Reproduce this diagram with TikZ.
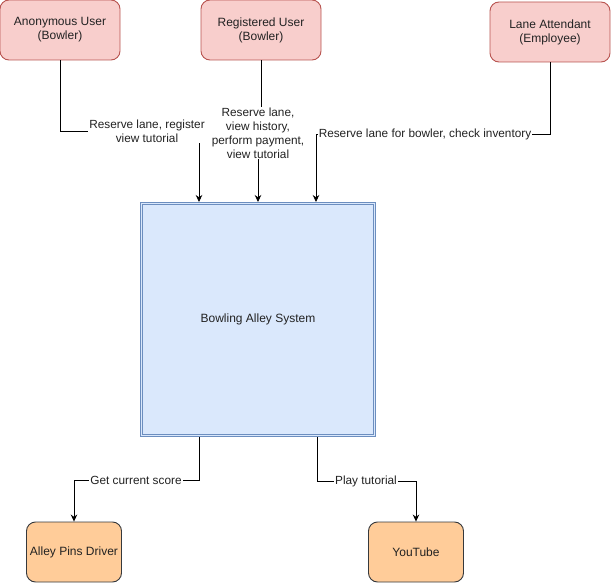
\documentclass[tikz,border=0pt]{standalone}
\usepackage{fontspec}
\setmainfont{Liberation Sans}
\usetikzlibrary{arrows.meta}
\definecolor{actorfill}{HTML}{F8CECC}
\definecolor{actorline}{HTML}{B85450}
\definecolor{sysfill}{HTML}{DAE8FC}
\definecolor{sysline}{HTML}{6C8EBF}
\definecolor{extfill}{HTML}{FFCC99}
\definecolor{extline}{HTML}{36393D}
\definecolor{txt}{HTML}{222222}
\begin{document}
\begin{tikzpicture}[x=1pt,y=-1pt,
  box/.style={rounded corners=9pt, line width=0.9pt, inner sep=0pt, align=center,
    font=\fontsize{12}{14}\selectfont, text=txt},
  actor/.style={box, draw=actorline, fill=actorfill, minimum width=120pt, minimum height=60pt},
  ext/.style={box, draw=extline, fill=extfill, minimum width=95pt, minimum height=60pt},
  sysbox/.style={draw=sysline, double=sysfill, double distance=1.6pt, line width=0.7pt,
    fill=sysfill, minimum width=233pt, minimum height=232pt, inner sep=0pt,
    font=\fontsize{12}{14}\selectfont, text=txt},
  flow/.style={draw=black, line width=0.8pt, -{Stealth[length=7pt,width=6.5pt]}},
  lbl/.style={fill=white, inner sep=1pt, align=center, font=\fontsize{11.8}{14}\selectfont, text=txt}
]
\useasboundingbox (0,0) rectangle (611,583);

% actors
\node[actor] (anon) at (60,30) {Anonymous User\\(Bowler)};
\node[actor] (reg) at (261,30) {Registered User\\(Bowler)};
\node[actor] (lane) at (550,32) {Lane Attendant\\(Employee)};

% system
\node[sysbox] (sys) at (258,319.5) {Bowling Alley System};

% external systems
\node[ext] (pins) at (74,552) {Alley Pins Driver};
\node[ext] (yt) at (416,552) {YouTube};

% connector end points on the system box
\coordinate (inA) at (199,202);
\coordinate (inR) at (258,202);
\coordinate (inL) at (316,202);
\coordinate (outP) at (199,437);
\coordinate (outY) at (317,437);

% incoming flows
\draw[flow] (anon.south) |- (199,131) -- (inA);
\node[lbl] at (147,131) {Reserve lane, register\\view tutorial};

\draw[flow] (reg.south) -- (261,133) -| (inR);
\node[lbl] at (258,133) {Reserve lane,\\view history,\\perform payment,\\view tutorial};

\draw[flow] (lane.south) |- (316,134) -- (inL);
\node[lbl] at (425,134) {Reserve lane for bowler, check inventory};

% outgoing flows
\draw[flow] (outP) |- (pins.north |- 0,480) -- (pins.north);
\node[lbl] at (136,480) {Get current score};

\draw[flow] (outY) |- (yt.north |- 0,481) -- (yt.north);
\node[lbl] at (366,481) {Play tutorial};
\end{tikzpicture}
\end{document}
